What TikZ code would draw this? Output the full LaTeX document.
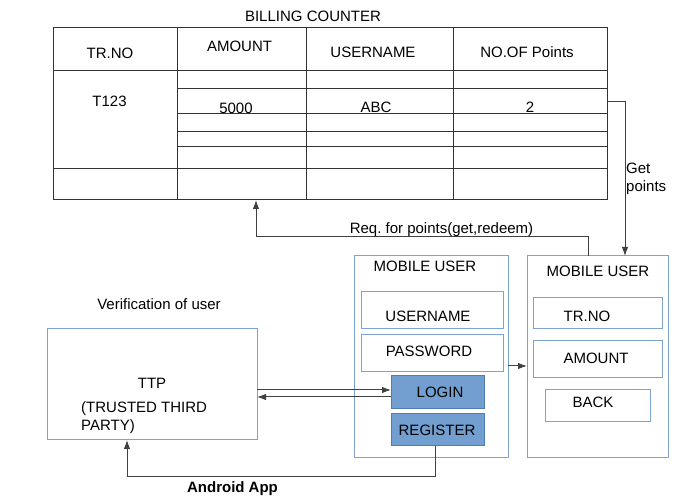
\documentclass[tikz,border=0pt]{standalone}
\usepackage{fontspec}
\setmainfont{Liberation Sans}
\usetikzlibrary{arrows.meta,calc}
\definecolor{panelblue}{RGB}{125,163,210}
\definecolor{btnfill}{RGB}{114,159,207}
\definecolor{btnline}{RGB}{80,125,180}

\tikzset{
  tline/.style={draw=black!80, line width=1pt},
  conn/.style={draw=black!75, line width=1pt, -{Latex[length=9pt,width=6.5pt]}},
  panel/.style={draw=panelblue, line width=1pt, inner sep=0pt, outer sep=0pt},
  btn/.style={draw=btnline, fill=btnfill, line width=1pt, inner sep=0pt, outer sep=0pt},
  lbl/.style={anchor=base, inner sep=0pt}
}

\begin{document}
\begin{tikzpicture}[x=1pt, y=-1pt, font=\fontsize{15}{18}\selectfont]
\useasboundingbox (0,0) rectangle (683,502);

% Billing counter table
\node[tline, minimum width=554pt, minimum height=172pt, inner sep=0pt, outer sep=0pt] (bill) at (330,114) {};
\node[lbl] (billtitle) at (313,22) {BILLING COUNTER};
\foreach \x in {177,306,453}
  \draw[tline] (\x,28) -- (\x,200);
\foreach \y in {71,169}
  \draw[tline] (53,\y) -- (607,\y);
\foreach \y in {89,114,132,147}
  \draw[tline] (177,\y) -- (607,\y);
\node[lbl] (htr)  at (110,59) {TR.NO};
\node[lbl] (hamt) at (239.5,52) {AMOUNT};
\node[lbl] (husr) at (373,58) {USERNAME};
\node[lbl] (hpts) at (527,58) {NO.OF Points};
\node[lbl] (vtr)  at (109.5,107) {T123};
\node[lbl] (vamt) at (236,114) {5000};
\node[lbl] (vusr) at (376,113) {ABC};
\node[lbl] (vpts) at (530,113) {2};

% Mobile user screens
\node[panel, minimum width=154pt, minimum height=202pt] (mu1) at (431,357) {};
\node[panel, minimum width=141pt, minimum height=202pt] (mu2) at (597.5,357) {};
\node[lbl] (mu1title) at (425,272) {MOBILE USER};
\node[lbl] (mu2title) at (598,277) {MOBILE USER};

\node[panel, minimum width=142pt, minimum height=37pt] (user) at (432,310.5) {};
\node[panel, minimum width=142pt, minimum height=37pt] (pass) at (432,353.5) {};
\node[btn, minimum width=93pt, minimum height=33pt] (login) at (437.5,392.5) {};
\node[btn, minimum width=93pt, minimum height=32pt] (reg) at (437.5,430) {};
\node[lbl] at (428,322) {USERNAME};
\node[lbl] at (429,357) {PASSWORD};
\node[lbl] at (440,398) {LOGIN};
\node[lbl] at (437,436) {REGISTER};

\node[panel, minimum width=129pt, minimum height=31pt] (trno) at (597.5,313.5) {};
\node[panel, minimum width=129pt, minimum height=37pt] (amt) at (597.5,359.5) {};
\node[panel, minimum width=105pt, minimum height=32pt] (back) at (597.5,406) {};
\node[lbl] at (587,322) {TR.NO};
\node[lbl] at (596,364) {AMOUNT};
\node[lbl] at (593,408) {BACK};

% Trusted third party
\node[panel, minimum width=210pt, minimum height=111pt] (ttp) at (152,384.5) {};
\node[lbl] (verif) at (159,310) {Verification of user};
\node[lbl] (ttptitle) at (152,389) {TTP};
\node[anchor=base west, inner sep=0pt, align=left] (ttpfull) at (81,431) {(TRUSTED THIRD\\PARTY)};
\node[lbl, font=\fontsize{15}{18}\selectfont\bfseries] (app) at (232.5,493) {Android App};

% Connectors
\draw[conn] ([yshift=12pt]bill.east) -| ([xshift=27.5pt]mu2.north);
\node[anchor=base west, inner sep=0pt, align=left] (getlbl) at (626,192) {Get\\points};
\draw[conn] ([xshift=-9.5pt]mu2.north) -- ++(0,-19) -| ([xshift=-74pt]bill.south);
\node[lbl] (reqlbl) at (441.5,234) {Req.\ for points(get,redeem)};
\draw[conn] ([yshift=-9pt]mu1.east) -- ([yshift=-9pt]mu2.west);
\draw[conn] ([yshift=-5.5pt]ttp.east) -- ([yshift=2.5pt]login.west);
\draw[conn] ([yshift=-4.5pt]login.west) -- ([yshift=-12.5pt]ttp.east);
\draw[conn] ([xshift=-2.5pt]reg.south) -- ++(0,31) -| ([xshift=-25pt]ttp.south);
\end{tikzpicture}
\end{document}
